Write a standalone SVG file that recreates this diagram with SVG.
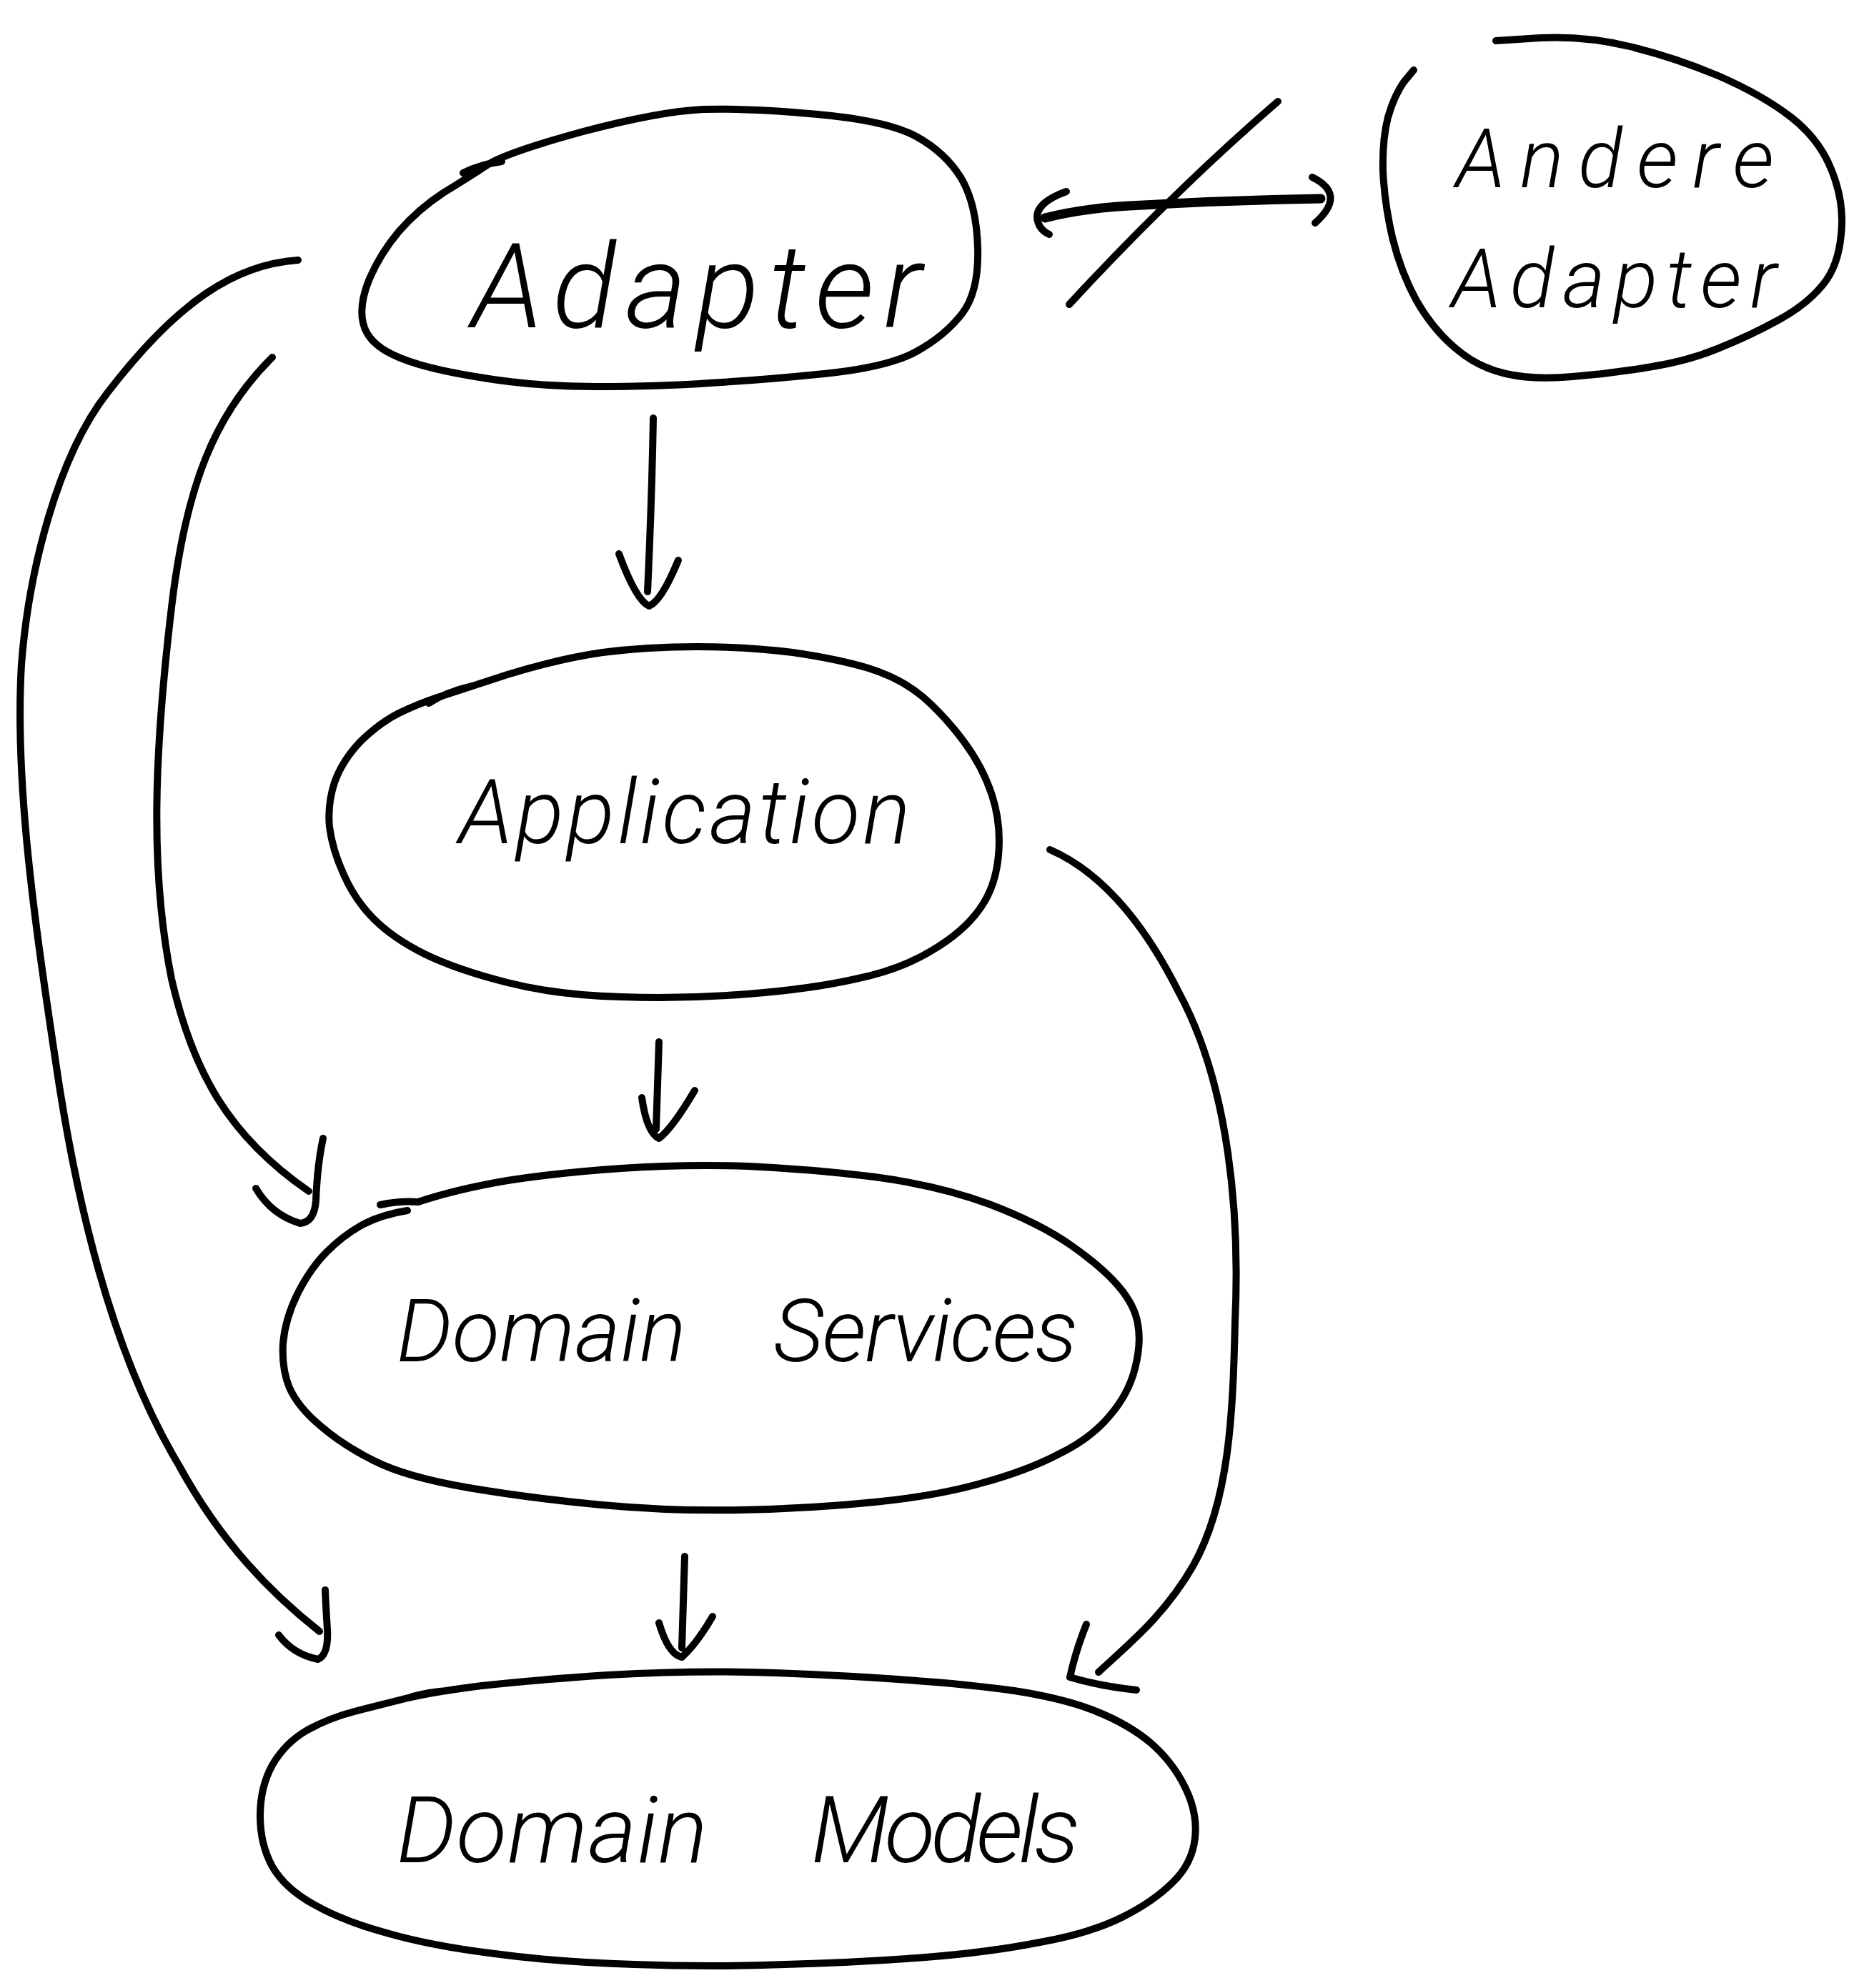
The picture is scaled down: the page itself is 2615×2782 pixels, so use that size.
<svg xmlns="http://www.w3.org/2000/svg" width="2615" height="2782" viewBox="0 0 2615 2782">
<style>
.s{fill:none;stroke:#000;stroke-width:10;stroke-linecap:round;stroke-linejoin:round}
.b{stroke-width:13}
.t{font-family:Roboto,"Open Sans","DejaVu Sans",sans-serif;font-weight:300;font-style:italic;fill:#000}
</style>
<rect width="2615" height="2782" fill="#fff"/>
<g id="adapter">
<path class="s" d="M648,242 Q672,230 702,226 M683,230 Q710,213 816,184 Q922,156 984,153 Q1047,151 1144,160 Q1242,169 1282,191 Q1322,213 1344,248 Q1366,284 1368,346 Q1370,408 1346,439 Q1322,470 1282,492 Q1242,514 1153,523 Q1064,532 993,536 Q922,541 833,541 Q745,541 665,527 Q585,514 549,496 Q514,479 508,452 Q502,426 517,390 Q532,355 558,324 Q585,293 620,270 Q656,248 683,230"/>
<text class="t" x="660" y="458" font-size="165" textLength="630" lengthAdjust="spacing">Adapter</text>
</g>
<g id="andere-adapter">
<path class="s" d="M2093,57 L2155,53 Q2218,50 2280,65 Q2342,80 2404,106 Q2466,133 2506,164 Q2546,195 2563,239 Q2581,284 2576,328 Q2572,373 2550,399 Q2528,426 2488,448 Q2448,470 2403,488 Q2359,506 2306,514 Q2253,523 2200,527 Q2147,532 2107,523 Q2067,514 2036,487 Q2005,461 1982,421 Q1960,381 1948,332 Q1937,284 1935,239 Q1934,195 1942,164 Q1951,133 1964,115 L1978,98"/>
<text class="t" x="2037" y="262" font-size="115" textLength="445" lengthAdjust="spacing">Andere</text>
<text class="t" x="2031" y="430" font-size="115" textLength="455" lengthAdjust="spacing">Adapter</text>
</g>
<g id="application">
<path class="s" d="M600,984 Q625,968 660,960 M612,976 Q639,967 710,944 Q781,922 843,913 Q905,905 976,905 Q1047,905 1109,913 Q1171,922 1215,935 Q1260,949 1291,975 Q1322,1002 1348,1037 Q1375,1073 1388,1113 Q1401,1153 1397,1197 Q1393,1242 1370,1273 Q1348,1304 1304,1330 Q1260,1357 1197,1370 Q1135,1384 1046,1391 Q958,1398 869,1395 Q781,1393 710,1375 Q639,1357 594,1335 Q550,1313 523,1286 Q497,1260 481,1224 Q465,1189 461,1157 Q458,1126 468,1095 Q479,1064 505,1037 Q532,1011 558,998 Q585,985 612,976"/>
<text class="t" x="642" y="1180" font-size="125" textLength="632" lengthAdjust="spacing">Application</text>
</g>
<g id="domain-services">
<path class="s" d="M532,1686 Q560,1680 585,1682 Q639,1664 710,1652 Q781,1641 869,1635 Q958,1629 1046,1632 Q1135,1636 1224,1647 Q1313,1659 1384,1685 Q1455,1712 1499,1743 Q1543,1774 1565,1800 Q1588,1827 1592,1853 Q1597,1880 1588,1915 Q1579,1951 1552,1982 Q1526,2013 1481,2035 Q1437,2058 1375,2075 Q1313,2093 1224,2102 Q1135,2111 1037,2113 Q940,2115 842,2106 Q745,2097 656,2082 Q568,2067 523,2044 Q479,2022 448,1995 Q417,1969 405,1942 Q394,1916 396,1880 Q399,1845 417,1809 Q435,1774 457,1752 Q479,1730 505,1715 Q532,1700 570,1694"/>
<text class="t" y="1905" font-size="122"><tspan x="555" textLength="405" lengthAdjust="spacing">Domain</tspan><tspan x="1082" textLength="426" lengthAdjust="spacing">Services</tspan></text>
</g>
<g id="domain-models">
<path class="s" d="M577,2374 Q600,2368 625,2366 M567,2377 Q603,2368 674,2359 Q745,2351 851,2344 Q958,2338 1046,2340 Q1135,2342 1241,2349 Q1348,2356 1419,2366 Q1490,2377 1534,2395 Q1579,2413 1610,2439 Q1641,2466 1658,2501 Q1676,2537 1672,2572 Q1668,2608 1641,2634 Q1614,2661 1570,2683 Q1526,2705 1455,2718 Q1384,2732 1295,2739 Q1206,2746 1099,2749 Q993,2753 887,2749 Q781,2746 692,2734 Q603,2723 541,2705 Q479,2688 439,2665 Q399,2643 381,2612 Q364,2581 364,2541 Q364,2501 381,2470 Q399,2439 430,2421 Q461,2404 496,2395 Q532,2386 567,2377"/>
<text class="t" y="2606" font-size="130"><tspan x="555" textLength="435" lengthAdjust="spacing">Domain</tspan><tspan x="1135" textLength="376" lengthAdjust="spacing">Models</tspan></text>
</g>
<g id="connectors">
<path class="s" d="M914,585 Q912,700 906,828"/>
<path class="s" d="M866,775 Q890,840 908,848 Q925,842 949,784"/>
<path class="s" d="M922,1458 Q920,1520 918,1580"/>
<path class="s" d="M898,1536 Q905,1585 922,1593 Q940,1580 972,1526"/>
<path class="s" d="M958,2178 Q956,2240 954,2306"/>
<path class="s" d="M922,2271 Q935,2315 954,2319 Q975,2300 997,2262"/>
<path class="s" d="M381,500 C300,580 260,680 240,850 C215,1060 210,1220 240,1370 C270,1500 320,1590 432,1667"/>
<path class="s" d="M358,1663 Q380,1700 420,1712 Q440,1710 442,1680 Q444,1630 452,1593"/>
<path class="s" d="M417,364 C330,370 250,420 150,550 C80,640 40,800 30,930 C20,1100 50,1300 80,1500 C110,1700 160,1900 250,2050 C310,2160 380,2230 447,2283"/>
<path class="s" d="M390,2288 Q410,2315 445,2322 Q460,2315 458,2280 Q456,2250 455,2225"/>
<path class="s" d="M1469,1189 C1540,1220 1600,1290 1650,1390 C1720,1520 1735,1700 1728,1850 C1725,1980 1720,2100 1670,2190 C1630,2260 1580,2300 1537,2340"/>
<path class="s" d="M1520,2273 Q1505,2310 1497,2347 Q1540,2360 1590,2365"/>
<path class="s b" d="M1462,305 Q1520,290 1600,287 Q1720,280 1848,278"/>
<path class="s" d="M1492,268 Q1445,285 1452,310 Q1455,322 1468,328"/>
<path class="s" d="M1836,248 Q1885,272 1840,312"/>
<path class="s" d="M1788,142 Q1640,270 1496,426"/>
</g>
</svg>
